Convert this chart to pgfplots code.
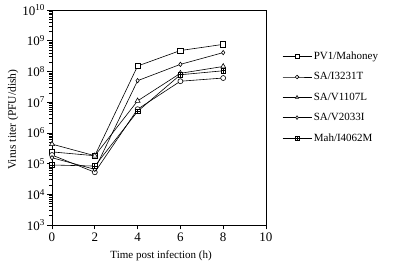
\documentclass[border=0pt]{standalone}
\usepackage{fontspec}
\setmainfont{Liberation Serif}
\usepackage{pgfplots}
\pgfplotsset{compat=1.18}
\usetikzlibrary{plotmarks}
\pgfdeclareplotmark{boxplus}{%
  \pgfpathrectangle{\pgfqpoint{-\pgfplotmarksize}{-\pgfplotmarksize}}{\pgfqpoint{2\pgfplotmarksize}{2\pgfplotmarksize}}%
  \pgfusepathqfillstroke
  \pgfpathmoveto{\pgfqpoint{-\pgfplotmarksize}{0pt}}\pgfpathlineto{\pgfqpoint{\pgfplotmarksize}{0pt}}%
  \pgfpathmoveto{\pgfqpoint{0pt}{-\pgfplotmarksize}}\pgfpathlineto{\pgfqpoint{0pt}{\pgfplotmarksize}}%
  \pgfusepathqstroke}
\begin{document}
\begin{tikzpicture}
\useasboundingbox (-52pt,-44pt) rectangle (348pt,225pt);
\begin{axis}[
  at={(0,0)}, anchor=south west,
  scale only axis,
  width=214pt, height=215pt,
  ymode=log,
  xmin=0, xmax=10, ymin=1e3, ymax=1e10,
  xtick={0,2,4,6,8,10},
  ytick={1e3,1e4,1e5,1e6,1e7,1e8,1e9,1e10},
  yticklabels={10\textsuperscript{3},10\textsuperscript{4},10\textsuperscript{5},10\textsuperscript{6},10\textsuperscript{7},10\textsuperscript{8},10\textsuperscript{9},10\textsuperscript{10}},
  minor ytick={},
  tick align=outside,
  tick pos=left,
  major tick length=4.5pt,
  /pgf/number format/assume math mode=true,
  tick label style={font=\fontsize{13}{15}\selectfont},
  yticklabel style={xshift=1pt},
  every axis x label/.style={at={(axis description cs:0.51,0)}, anchor=base, yshift=-33pt, font=\fontsize{11}{13}\selectfont},
  every axis y label/.style={at={(axis description cs:-0.182,0.49)}, anchor=center, rotate=90, font=\fontsize{11.5}{13}\selectfont},
  xlabel={Time post infection (h)},
  ylabel={Virus titer (PFU/dish)},
  axis line style={line width=0.7pt},
  every tick/.style={black, line width=0.6pt},
  legend style={draw=none, at={(1.075,0.815)}, anchor=north west, font=\fontsize{11}{13}\selectfont, row sep=7.5pt, fill=none, inner sep=0pt,
    /tikz/every even column/.append style={column sep=7pt}},
  legend image code/.code={\draw[mark repeat=2, mark phase=2] plot coordinates {(0pt,0pt) (14.5pt,0pt) (29pt,0pt)};},
  legend image post style={mark size=1.8pt},
  legend cell align=left,
  every axis plot/.append style={black, line width=0.6pt, mark options={fill=white, solid}},
]
\addplot[mark=square*, mark size=2.6pt] coordinates {(0,2.4e5) (2,1.8e5) (4,1.5e8) (6,4.8e8) (8,7.6e8)};
\addlegendentry{PV1/Mahoney}
\addplot[mark=*, mark size=2.5pt] coordinates {(0,1.9e5) (2,5.2e4) (4,5.9e6) (6,4.8e7) (8,6.1e7)};
\addlegendentry{SA/I3231T}
\addplot[mark=triangle*, mark size=2.9pt] coordinates {(0,4.3e5) (2,1.8e5) (4,1.1e7) (6,8.7e7) (8,1.45e8)};
\addlegendentry{SA/V1107L}
\addplot[mark=diamond*, mark size=2.2pt] coordinates {(0,1.55e5) (2,6.5e4) (4,5.0e7) (6,1.7e8) (8,4.1e8)};
\addlegendentry{SA/V2033I}
\addplot[mark=boxplus, mark size=2.3pt] coordinates {(0,9e4) (2,8.3e4) (4,5.0e6) (6,7.8e7) (8,1.05e8)};
\addlegendentry{Mah/I4062M}
\end{axis}
\end{tikzpicture}
\end{document}
